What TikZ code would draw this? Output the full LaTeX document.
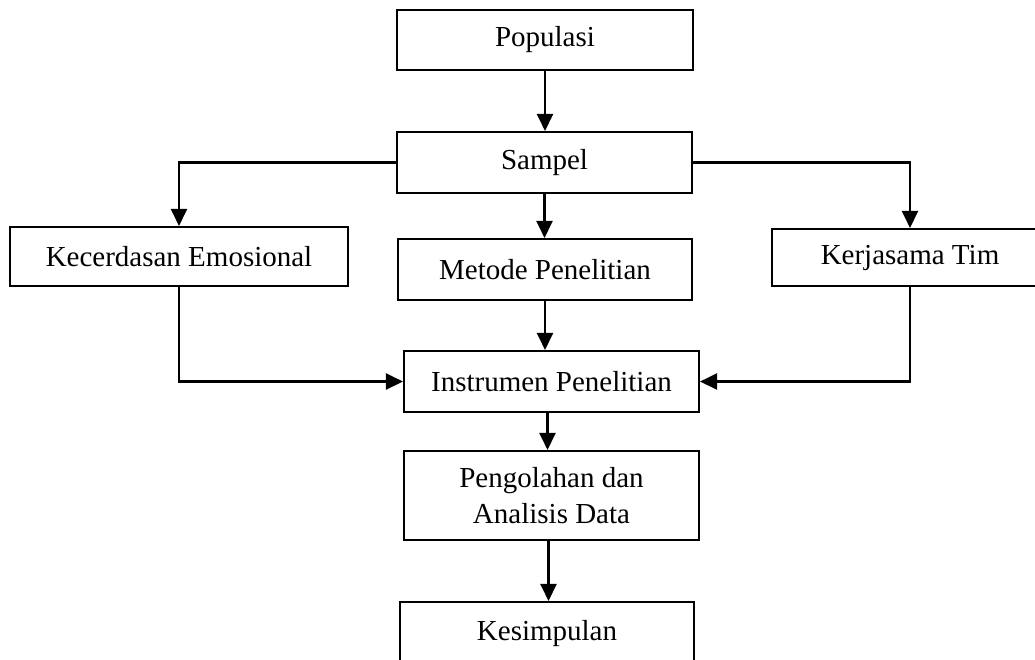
\documentclass[tikz,border=0pt]{standalone}
\usepackage{fontspec}
\setmainfont{Liberation Serif}
\usepackage{tikz}
\usetikzlibrary{shapes,arrows.meta,positioning,calc}

\begin{document}
\begin{tikzpicture}[
    box/.style={draw,line width=1.2pt,align=center,inner sep=0pt,
      font=\fontsize{16.5}{20}\selectfont},
    arr/.style={line width=1.3pt,-{Triangle[length=0.34cm,width=0.32cm]}}]
  % Canvas
  \useasboundingbox (0,0) rectangle (20.7,-13.18);

  % Boxes
  \node[box,minimum width=5.92cm,minimum height=1.2cm] (pop) at (10.9,-0.8) {Populasi};
  \node[box,minimum width=5.9cm,minimum height=1.22cm] (sampel) at (10.89,-3.25) {Sampel};
  \node[box,minimum width=6.76cm,minimum height=1.18cm] (ke) at (3.58,-5.13) {Kecerdasan Emosional};
  \node[box,minimum width=5.88cm,minimum height=1.22cm] (metode) at (10.9,-5.39) {Metode Penelitian};
  \node[box,minimum width=5.52cm,minimum height=1.14cm] (kerja) at (18.2,-5.15) {Kerjasama Tim};
  \node[box,minimum width=5.9cm,minimum height=1.22cm] (instr) at (11.03,-7.63) {Instrumen Penelitian};
  \node[box,minimum width=5.9cm,minimum height=1.78cm] (olah) at (11.03,-9.91) {Pengolahan dan\\Analisis Data};
  \node[box,minimum width=5.88cm,minimum height=1.26cm] (simpul) at (10.94,-12.67) {Kesimpulan};

  % Arrows down the middle
  \draw[arr] (pop.south) -- (pop.south |- sampel.north);
  \draw[arr] (sampel.south) -- (sampel.south |- metode.north);
  \draw[arr] (metode.south) -- (metode.south |- instr.north);
  \draw[arr] ($(instr.south)+(-0.08,0)$) -- ($(instr.south |- olah.north)+(-0.08,0)$);
  \draw[arr] ($(olah.south)+(-0.06,0)$) -- ($(olah.south |- simpul.north)+(-0.06,0)$);

  % Branches to both variables
  \draw[arr] (sampel.west) -| (ke.north);
  \draw[arr] (sampel.east) -| (kerja.north);

  % Back into the instrument
  \draw[arr] (ke.south) |- (instr.west);
  \draw[arr] (kerja.south) |- (instr.east);
\end{tikzpicture}
\end{document}
